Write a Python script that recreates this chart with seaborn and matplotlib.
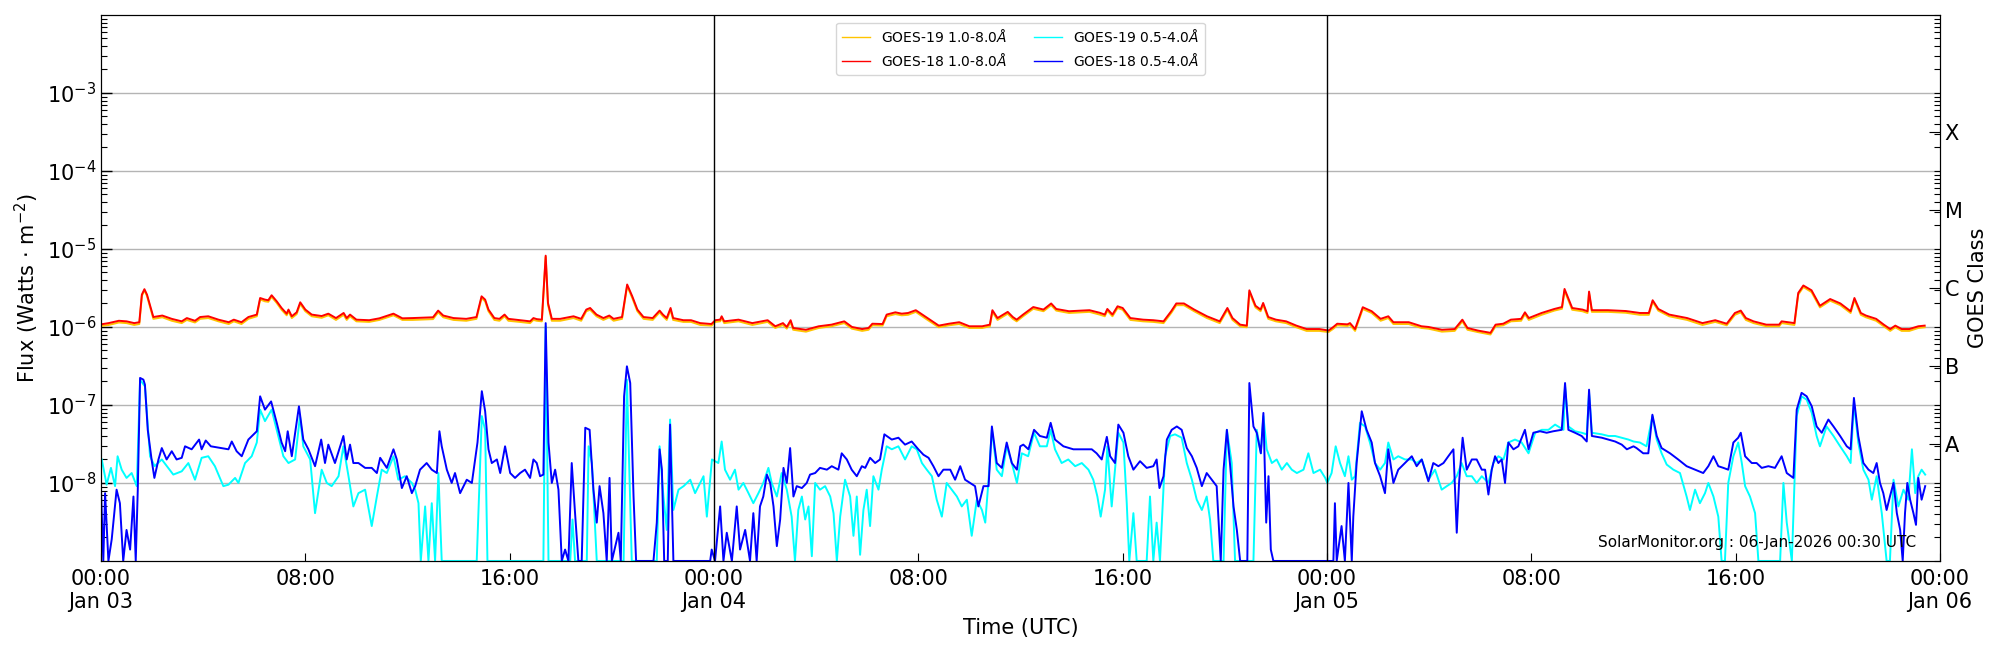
import numpy as np
import pandas as pd
import matplotlib
matplotlib.use("Agg")
import matplotlib.pyplot as plt
import matplotlib.dates as mdates
from matplotlib.ticker import LogLocator, FixedLocator, FixedFormatter, NullFormatter, FuncFormatter
import seaborn as sns

START = pd.Timestamp("2026-01-03 00:00")

# ---- data: (hours since 2026-01-03 00:00 UTC, flux) ----
# 1.0-8.0 A channels, flux in units of 1e-6 W m^-2
g18_long = [
    (0.0, 1.08), (0.3, 1.12), (0.7, 1.2), (1.0, 1.18), (1.3, 1.12), (1.5, 1.15), (1.6, 2.6), (1.7, 3.05),
    (1.8, 2.6), (1.9, 2.0), (2.05, 1.34), (2.4, 1.4), (2.77, 1.27), (3.16, 1.18), (3.36, 1.3), (3.68, 1.2),
    (3.88, 1.34), (4.2, 1.37), (4.6, 1.24), (5.0, 1.15), (5.2, 1.24), (5.5, 1.15), (5.77, 1.34), (6.1, 1.44),
    (6.23, 2.35), (6.42, 2.24), (6.55, 2.2), (6.68, 2.55), (6.88, 2.13), (7.07, 1.75), (7.27, 1.48), (7.34, 1.67),
    (7.47, 1.37), (7.66, 1.54), (7.8, 2.07), (8.0, 1.67), (8.25, 1.44), (8.64, 1.38), (8.9, 1.48), (9.2, 1.3),
    (9.5, 1.51), (9.62, 1.3), (9.75, 1.44), (10.0, 1.24), (10.5, 1.22), (10.9, 1.29), (11.45, 1.48), (11.8, 1.29),
    (12.2, 1.3), (13.0, 1.33), (13.2, 1.62), (13.4, 1.4), (13.8, 1.3), (14.3, 1.27), (14.7, 1.34), (14.9, 2.47),
    (15.04, 2.24), (15.17, 1.67), (15.4, 1.3), (15.6, 1.27), (15.8, 1.44), (15.95, 1.27), (16.4, 1.22), (16.8, 1.18),
    (16.93, 1.3), (17.06, 1.26), (17.26, 1.24), (17.41, 8.2), (17.5, 2.03), (17.65, 1.27), (17.98, 1.27), (18.5, 1.37),
    (18.8, 1.27), (19.0, 1.67), (19.15, 1.75), (19.4, 1.44), (19.67, 1.3), (19.9, 1.4), (20.07, 1.27), (20.4, 1.34),
    (20.6, 3.5), (20.8, 2.47), (21.0, 1.67), (21.24, 1.34), (21.6, 1.3), (21.87, 1.62), (22.0, 1.44), (22.15, 1.3),
    (22.3, 1.75), (22.4, 1.3), (22.8, 1.22), (23.1, 1.22), (23.46, 1.12), (23.9, 1.09), (24.05, 1.22), (24.24, 1.24),
    (24.3, 1.37), (24.4, 1.18), (24.96, 1.24), (25.5, 1.12), (26.1, 1.22), (26.4, 1.02), (26.7, 1.12), (26.85, 1.0),
    (27.0, 1.22), (27.1, 0.97), (27.6, 0.92), (28.1, 1.02), (28.6, 1.07), (29.1, 1.18), (29.4, 1.0), (29.8, 0.94),
    (30.05, 0.97), (30.2, 1.1), (30.6, 1.09), (30.76, 1.44), (31.1, 1.54), (31.35, 1.48), (31.6, 1.51), (31.9, 1.64),
    (32.3, 1.34), (32.8, 1.04), (33.2, 1.1), (33.6, 1.15), (34.0, 1.02), (34.5, 1.02), (34.8, 1.07), (34.9, 1.64),
    (35.1, 1.3), (35.5, 1.56), (35.7, 1.34), (35.85, 1.24), (36.1, 1.44), (36.5, 1.8), (36.9, 1.67), (37.2, 2.0),
    (37.4, 1.7), (37.9, 1.59), (38.7, 1.64), (39.1, 1.52), (39.3, 1.44), (39.4, 1.7), (39.6, 1.44), (39.8, 1.84),
    (40.0, 1.75), (40.3, 1.3), (40.8, 1.24), (41.2, 1.22), (41.6, 1.18), (41.9, 1.59), (42.1, 2.0), (42.4, 2.0),
    (42.8, 1.67), (43.3, 1.37), (43.8, 1.18), (44.1, 1.75), (44.3, 1.3), (44.6, 1.07), (44.86, 1.04), (44.96, 2.95),
    (45.2, 1.87), (45.4, 1.67), (45.5, 2.03), (45.7, 1.34), (46.0, 1.24), (46.4, 1.18), (46.8, 1.04), (47.2, 0.94),
    (47.7, 0.94), (48.06, 0.9), (48.25, 1.0), (48.4, 1.1), (48.8, 1.08), (48.9, 1.12), (49.1, 0.94), (49.4, 1.79),
    (49.75, 1.59), (50.1, 1.27), (50.4, 1.37), (50.6, 1.15), (51.2, 1.15), (51.7, 1.02), (51.97, 1.0), (52.5, 0.92),
    (53.0, 0.94), (53.3, 1.24), (53.5, 0.97), (53.9, 0.9), (54.4, 0.84), (54.6, 1.07), (54.9, 1.1), (55.2, 1.24),
    (55.6, 1.27), (55.75, 1.54), (55.9, 1.3), (56.4, 1.51), (56.9, 1.7), (57.2, 1.8), (57.3, 3.07), (57.6, 1.75),
    (58.0, 1.67), (58.2, 1.59), (58.26, 2.84), (58.37, 1.64), (59.0, 1.64), (59.7, 1.6), (60.25, 1.51), (60.6, 1.51),
    (60.75, 2.2), (60.97, 1.7), (61.4, 1.44), (62.1, 1.3), (62.7, 1.12), (63.2, 1.22), (63.65, 1.1), (63.97, 1.51),
    (64.2, 1.62), (64.4, 1.3), (64.7, 1.18), (65.2, 1.07), (65.7, 1.07), (65.8, 1.18), (66.3, 1.12), (66.45, 2.73),
    (66.65, 3.4), (66.97, 2.95), (67.3, 1.87), (67.7, 2.28), (68.1, 2.0), (68.5, 1.59), (68.65, 2.35), (68.9, 1.51),
    (69.1, 1.4), (69.5, 1.27), (69.8, 1.07), (70.05, 0.94), (70.25, 1.04), (70.5, 0.94), (70.8, 0.94), (71.15, 1.02),
    (71.4, 1.04),
]
g19_long = [
    (0.0, 1.03), (0.3, 1.06), (0.7, 1.14), (1.0, 1.12), (1.3, 1.06), (1.5, 1.09), (1.6, 2.5), (1.7, 2.95),
    (1.8, 2.5), (1.9, 1.9), (2.05, 1.27), (2.4, 1.33), (2.77, 1.2), (3.16, 1.12), (3.36, 1.23), (3.68, 1.14),
    (3.88, 1.27), (4.2, 1.3), (4.6, 1.18), (5.0, 1.09), (5.2, 1.18), (5.5, 1.09), (5.77, 1.27), (6.1, 1.37),
    (6.23, 2.25), (6.42, 2.13), (6.55, 2.1), (6.68, 2.43), (6.88, 2.03), (7.07, 1.66), (7.27, 1.41), (7.34, 1.59),
    (7.47, 1.3), (7.66, 1.46), (7.8, 1.97), (8.0, 1.59), (8.25, 1.37), (8.64, 1.31), (8.9, 1.41), (9.2, 1.23),
    (9.5, 1.43), (9.62, 1.23), (9.75, 1.37), (10.0, 1.18), (10.5, 1.16), (10.9, 1.23), (11.45, 1.41), (11.8, 1.23),
    (12.2, 1.23), (13.0, 1.26), (13.2, 1.54), (13.4, 1.33), (13.8, 1.23), (14.3, 1.2), (14.7, 1.27), (14.9, 2.35),
    (15.04, 2.13), (15.17, 1.59), (15.4, 1.23), (15.6, 1.2), (15.8, 1.37), (15.95, 1.2), (16.4, 1.16), (16.8, 1.12),
    (16.93, 1.23), (17.06, 1.2), (17.26, 1.18), (17.41, 7.9), (17.5, 1.93), (17.65, 1.2), (17.98, 1.2), (18.5, 1.3),
    (18.8, 1.2), (19.0, 1.59), (19.15, 1.66), (19.4, 1.37), (19.67, 1.23), (19.9, 1.33), (20.07, 1.2), (20.4, 1.27),
    (20.6, 3.35), (20.8, 2.35), (21.0, 1.59), (21.24, 1.27), (21.6, 1.23), (21.87, 1.54), (22.0, 1.37), (22.15, 1.23),
    (22.3, 1.66), (22.4, 1.23), (22.8, 1.16), (23.1, 1.16), (23.46, 1.06), (23.9, 1.04), (24.05, 1.16), (24.24, 1.18),
    (24.3, 1.3), (24.4, 1.12), (24.96, 1.18), (25.5, 1.06), (26.1, 1.16), (26.4, 0.97), (26.7, 1.06), (26.85, 0.95),
    (27.0, 1.16), (27.1, 0.92), (27.6, 0.87), (28.1, 0.97), (28.6, 1.02), (29.1, 1.12), (29.4, 0.95), (29.8, 0.89),
    (30.05, 0.92), (30.2, 1.05), (30.6, 1.04), (30.76, 1.37), (31.1, 1.46), (31.35, 1.41), (31.6, 1.43), (31.9, 1.56),
    (32.3, 1.27), (32.8, 0.99), (33.2, 1.05), (33.6, 1.09), (34.0, 0.97), (34.5, 0.97), (34.8, 1.02), (34.9, 1.56),
    (35.1, 1.23), (35.5, 1.48), (35.7, 1.27), (35.85, 1.18), (36.1, 1.37), (36.5, 1.71), (36.9, 1.59), (37.2, 1.9),
    (37.4, 1.62), (37.9, 1.51), (38.7, 1.56), (39.1, 1.44), (39.3, 1.37), (39.4, 1.62), (39.6, 1.37), (39.8, 1.75),
    (40.0, 1.66), (40.3, 1.23), (40.8, 1.18), (41.2, 1.16), (41.6, 1.12), (41.9, 1.51), (42.1, 1.9), (42.4, 1.9),
    (42.8, 1.59), (43.3, 1.3), (43.8, 1.12), (44.1, 1.66), (44.3, 1.23), (44.6, 1.02), (44.86, 0.99), (44.96, 2.8),
    (45.2, 1.78), (45.4, 1.59), (45.5, 1.93), (45.7, 1.27), (46.0, 1.18), (46.4, 1.12), (46.8, 0.99), (47.2, 0.89),
    (47.7, 0.89), (48.06, 0.86), (48.25, 0.95), (48.4, 1.05), (48.8, 1.03), (48.9, 1.06), (49.1, 0.89), (49.4, 1.7),
    (49.75, 1.51), (50.1, 1.2), (50.4, 1.3), (50.6, 1.09), (51.2, 1.09), (51.7, 0.97), (51.97, 0.95), (52.5, 0.87),
    (53.0, 0.89), (53.3, 1.18), (53.5, 0.92), (53.9, 0.86), (54.4, 0.8), (54.6, 1.02), (54.9, 1.05), (55.2, 1.18),
    (55.6, 1.2), (55.75, 1.46), (55.9, 1.23), (56.4, 1.43), (56.9, 1.62), (57.2, 1.71), (57.3, 2.92), (57.6, 1.66),
    (58.0, 1.59), (58.2, 1.51), (58.26, 2.7), (58.37, 1.56), (59.0, 1.56), (59.7, 1.52), (60.25, 1.43), (60.6, 1.43),
    (60.75, 2.1), (60.97, 1.62), (61.4, 1.37), (62.1, 1.23), (62.7, 1.06), (63.2, 1.16), (63.65, 1.05), (63.97, 1.43),
    (64.2, 1.54), (64.4, 1.23), (64.7, 1.12), (65.2, 1.02), (65.7, 1.02), (65.8, 1.12), (66.3, 1.06), (66.45, 2.6),
    (66.65, 3.25), (66.97, 2.8), (67.3, 1.78), (67.7, 2.17), (68.1, 1.9), (68.5, 1.51), (68.65, 2.23), (68.9, 1.43),
    (69.1, 1.33), (69.5, 1.2), (69.8, 1.02), (70.05, 0.89), (70.25, 0.99), (70.5, 0.89), (70.8, 0.89), (71.15, 0.97),
    (71.4, 0.99),
]

# 0.5-4.0 A channels, flux in units of 1e-8 W m^-2 (0.1 = floor of the axis)
g18_short = [
    (0.0, 0.82), (0.09, 0.1), (0.16, 0.74), (0.29, 0.1), (0.42, 0.19), (0.61, 0.82), (0.74, 0.55), (0.87, 0.1),
    (1.0, 0.25), (1.14, 0.14), (1.27, 0.67), (1.36, 0.1), (1.44, 0.82), (1.53, 22.2), (1.66, 21.1), (1.72, 18.2),
    (1.83, 4.8), (1.98, 2.0), (2.09, 1.16), (2.25, 2.0), (2.38, 2.8), (2.57, 2.0), (2.77, 2.55), (2.96, 2.0),
    (3.16, 2.1), (3.29, 2.95), (3.55, 2.7), (3.84, 3.6), (3.94, 2.7), (4.1, 3.5), (4.3, 2.95), (4.7, 2.8),
    (4.99, 2.7), (5.12, 3.4), (5.31, 2.55), (5.51, 2.2), (5.77, 3.6), (6.1, 4.6), (6.23, 12.9), (6.42, 8.7),
    (6.66, 11.1), (6.88, 5.9), (7.07, 3.3), (7.21, 2.55), (7.31, 4.6), (7.47, 2.2), (7.75, 9.6), (7.92, 3.6),
    (8.12, 2.7), (8.38, 1.64), (8.62, 3.6), (8.77, 1.8), (8.9, 3.1), (9.16, 1.8), (9.49, 4.0), (9.62, 2.0),
    (9.75, 3.1), (9.88, 1.8), (10.08, 1.8), (10.34, 1.56), (10.6, 1.56), (10.8, 1.34), (10.93, 2.1), (11.19, 1.56),
    (11.45, 2.7), (11.58, 2.0), (11.78, 0.86), (11.97, 1.22), (12.17, 0.74), (12.3, 0.91), (12.49, 1.48), (12.75, 1.8),
    (12.95, 1.48), (13.15, 1.34), (13.25, 4.6), (13.34, 2.95), (13.54, 1.48), (13.73, 1.0), (13.86, 1.34), (14.06, 0.74),
    (14.32, 1.1), (14.52, 1.0), (14.74, 3.3), (14.91, 15.0), (15.04, 8.3), (15.17, 2.7), (15.3, 1.8), (15.5, 2.0),
    (15.63, 1.34), (15.82, 2.95), (16.02, 1.34), (16.21, 1.16), (16.41, 1.34), (16.6, 1.48), (16.8, 1.16), (16.93, 2.0),
    (17.06, 1.8), (17.19, 1.22), (17.32, 1.28), (17.41, 112.0), (17.52, 3.3), (17.65, 1.0), (17.78, 1.48), (17.91, 0.82),
    (18.04, 0.1), (18.17, 0.14), (18.3, 0.1), (18.43, 1.8), (18.56, 0.41), (18.69, 0.1), (18.82, 0.1), (18.96, 5.1),
    (19.13, 4.8), (19.28, 0.82), (19.41, 0.31), (19.52, 0.91), (19.67, 0.41), (19.8, 0.1), (19.91, 1.16), (20.0, 0.1),
    (20.26, 0.23), (20.35, 0.1), (20.48, 12.9), (20.59, 31.3), (20.72, 19.1), (20.85, 0.67), (20.95, 0.1), (21.63, 0.1),
    (21.76, 0.31), (21.87, 2.7), (21.96, 1.48), (22.05, 0.1), (22.19, 0.1), (22.28, 5.6), (22.41, 0.1), (23.85, 0.1),
    (23.91, 0.14), (24.04, 0.1), (24.24, 0.5), (24.37, 0.1), (24.5, 0.23), (24.7, 0.1), (24.89, 0.5), (25.02, 0.14),
    (25.22, 0.25), (25.41, 0.1), (25.54, 0.41), (25.67, 0.1), (25.8, 0.5), (25.93, 0.67), (26.07, 1.28), (26.2, 1.0),
    (26.33, 0.5), (26.46, 0.155), (26.59, 0.34), (26.72, 1.56), (26.85, 1.0), (26.98, 2.8), (27.11, 0.67), (27.24, 0.91),
    (27.44, 0.86), (27.63, 1.0), (27.76, 1.28), (27.96, 1.34), (28.15, 1.56), (28.42, 1.48), (28.61, 1.64), (28.87, 1.48),
    (29.0, 2.4), (29.2, 2.0), (29.39, 1.48), (29.59, 1.22), (29.79, 1.64), (29.92, 1.56), (30.11, 2.1), (30.31, 1.8),
    (30.5, 2.0), (30.67, 4.2), (30.96, 3.6), (31.22, 3.8), (31.48, 3.1), (31.74, 3.4), (32.0, 2.7), (32.2, 2.3),
    (32.4, 2.1), (32.59, 1.64), (32.79, 1.22), (32.98, 1.48), (33.25, 1.48), (33.44, 1.1), (33.64, 1.64), (33.83, 1.1),
    (34.03, 1.0), (34.22, 0.91), (34.35, 0.5), (34.55, 0.91), (34.75, 0.91), (34.88, 5.3), (35.07, 1.8), (35.27, 1.56),
    (35.46, 3.3), (35.66, 1.8), (35.86, 1.48), (35.99, 2.95), (36.11, 3.1), (36.31, 2.7), (36.53, 4.8), (36.76, 4.0),
    (37.03, 3.8), (37.18, 5.9), (37.35, 3.6), (37.68, 2.95), (38.07, 2.7), (38.46, 2.7), (38.79, 2.7), (38.98, 2.4),
    (39.18, 2.0), (39.38, 3.9), (39.51, 2.2), (39.7, 1.8), (39.83, 5.6), (40.03, 4.4), (40.22, 2.2), (40.42, 1.48),
    (40.68, 1.9), (40.94, 1.56), (41.2, 1.64), (41.33, 2.0), (41.44, 0.86), (41.6, 1.22), (41.73, 3.6), (41.92, 4.8),
    (42.12, 5.3), (42.31, 4.8), (42.51, 2.8), (42.71, 2.2), (42.9, 1.56), (43.1, 0.91), (43.29, 1.34), (43.49, 1.1),
    (43.68, 0.91), (43.84, 0.1), (43.95, 1.48), (44.08, 4.8), (44.21, 1.64), (44.34, 0.5), (44.47, 0.25), (44.6, 0.1),
    (44.88, 0.1), (44.96, 19.1), (45.12, 5.3), (45.25, 4.4), (45.41, 2.4), (45.51, 7.9), (45.62, 0.31), (45.71, 1.22),
    (45.8, 0.14), (45.9, 0.1), (48.25, 0.1), (48.31, 0.55), (48.38, 0.1), (48.57, 0.28), (48.7, 0.1), (48.84, 1.0),
    (48.97, 0.1), (49.03, 0.37), (49.16, 1.8), (49.36, 8.3), (49.55, 4.8), (49.75, 3.3), (49.88, 1.8), (50.08, 1.22),
    (50.27, 0.74), (50.4, 2.7), (50.6, 1.0), (50.79, 1.48), (51.05, 1.8), (51.32, 2.2), (51.51, 1.64), (51.71, 2.0),
    (51.97, 1.05), (52.16, 1.8), (52.36, 1.64), (52.56, 1.8), (52.75, 2.2), (52.95, 2.7), (53.08, 0.23), (53.17, 1.0),
    (53.31, 3.8), (53.47, 1.48), (53.67, 2.0), (53.86, 2.0), (54.06, 1.48), (54.19, 1.48), (54.32, 0.71), (54.45, 1.48),
    (54.58, 2.2), (54.71, 1.8), (54.84, 2.0), (54.97, 1.0), (55.1, 3.3), (55.3, 2.7), (55.49, 2.95), (55.75, 4.8),
    (55.89, 2.7), (56.08, 4.4), (56.34, 4.6), (56.6, 4.4), (56.86, 4.6), (57.19, 4.8), (57.32, 19.1), (57.45, 4.8),
    (57.71, 4.4), (57.97, 4.0), (58.17, 3.4), (58.26, 15.7), (58.37, 4.0), (58.76, 3.8), (59.02, 3.6), (59.28, 3.4),
    (59.54, 3.1), (59.74, 2.7), (60.0, 2.95), (60.12, 2.8), (60.38, 2.4), (60.58, 2.4), (60.74, 7.5), (60.91, 4.0),
    (61.1, 2.8), (61.43, 2.4), (61.75, 2.0), (62.08, 1.64), (62.41, 1.48), (62.73, 1.34), (62.93, 1.64), (63.13, 2.2),
    (63.32, 1.64), (63.52, 1.56), (63.71, 1.48), (63.91, 3.3), (64.1, 3.8), (64.2, 4.4), (64.37, 2.2), (64.63, 1.8),
    (64.82, 1.8), (65.02, 1.56), (65.28, 1.64), (65.54, 1.56), (65.8, 2.2), (66.0, 1.34), (66.26, 1.16), (66.39, 8.7),
    (66.58, 14.3), (66.78, 12.9), (66.98, 9.6), (67.17, 5.3), (67.37, 4.4), (67.63, 6.5), (67.83, 5.3), (68.09, 4.0),
    (68.35, 2.95), (68.5, 2.7), (68.63, 12.3), (68.8, 4.0), (69.0, 1.8), (69.2, 1.48), (69.39, 1.34), (69.52, 1.8),
    (69.65, 1.0), (69.78, 0.74), (69.91, 0.45), (70.04, 0.67), (70.18, 1.0), (70.31, 0.41), (70.44, 0.25), (70.54, 0.1),
    (70.63, 0.41), (70.72, 1.0), (70.83, 0.61), (70.96, 0.41), (71.06, 0.29), (71.15, 1.16), (71.28, 0.61), (71.42, 0.91),
]
g19_short = [
    (0.03, 2.0), (0.22, 0.95), (0.39, 1.56), (0.55, 0.91), (0.65, 2.2), (0.81, 1.48), (1.0, 1.16), (1.2, 1.34),
    (1.4, 0.91), (1.53, 21.1), (1.72, 17.3), (1.92, 2.2), (2.1, 1.64), (2.38, 2.0), (2.83, 1.28), (3.16, 1.41),
    (3.42, 1.8), (3.68, 1.1), (3.94, 2.1), (4.2, 2.2), (4.46, 1.64), (4.79, 0.91), (4.99, 0.95), (5.25, 1.16),
    (5.38, 1.0), (5.64, 1.8), (5.9, 2.2), (6.1, 3.3), (6.23, 8.7), (6.42, 6.2), (6.68, 8.7), (6.88, 4.8),
    (7.14, 2.2), (7.34, 1.8), (7.6, 2.0), (7.79, 7.2), (7.92, 2.95), (8.19, 2.0), (8.38, 0.41), (8.64, 1.48),
    (8.84, 1.0), (9.03, 0.91), (9.3, 1.22), (9.49, 2.95), (9.69, 1.22), (9.88, 0.5), (10.08, 0.74), (10.34, 0.82),
    (10.6, 0.28), (10.8, 0.67), (10.99, 1.48), (11.19, 1.34), (11.45, 2.2), (11.64, 1.1), (11.9, 1.22), (12.17, 1.0),
    (12.3, 0.82), (12.43, 0.55), (12.52, 0.1), (12.69, 0.5), (12.82, 0.1), (12.95, 0.55), (13.08, 0.1), (13.21, 1.34),
    (13.34, 0.1), (14.71, 0.1), (14.78, 0.45), (14.91, 7.2), (15.04, 4.8), (15.13, 0.1), (17.32, 0.1), (17.41, 102.0),
    (17.52, 0.1), (18.37, 0.1), (18.46, 0.34), (18.56, 0.1), (19.02, 0.1), (19.09, 2.95), (19.22, 1.8), (19.41, 0.1),
    (20.46, 0.1), (20.59, 21.1), (20.78, 0.1), (21.76, 0.1), (21.87, 2.95), (22.02, 0.67), (22.15, 0.25), (22.28, 6.5),
    (22.41, 0.45), (22.61, 0.82), (22.81, 0.91), (23.07, 1.1), (23.26, 0.74), (23.46, 1.0), (23.59, 1.22), (23.72, 0.37),
    (23.92, 2.0), (24.17, 1.8), (24.3, 3.4), (24.43, 1.48), (24.63, 1.1), (24.82, 1.48), (24.96, 0.82), (25.15, 1.0),
    (25.35, 0.74), (25.54, 0.55), (25.74, 0.74), (25.93, 1.0), (26.13, 1.56), (26.26, 1.0), (26.46, 0.67), (26.65, 1.34),
    (26.85, 0.82), (27.04, 0.37), (27.17, 0.1), (27.3, 0.45), (27.44, 0.67), (27.57, 0.34), (27.7, 0.5), (27.83, 0.115),
    (27.96, 1.0), (28.15, 0.82), (28.35, 0.91), (28.55, 0.67), (28.68, 0.41), (28.81, 0.1), (28.94, 0.37), (29.13, 1.1),
    (29.33, 0.67), (29.46, 0.21), (29.59, 0.67), (29.72, 0.12), (29.85, 0.45), (29.98, 0.82), (30.11, 0.28), (30.24, 1.22),
    (30.44, 0.82), (30.57, 1.48), (30.76, 2.95), (30.96, 2.7), (31.22, 2.95), (31.48, 2.0), (31.74, 2.95), (31.94, 2.7),
    (32.14, 1.8), (32.33, 1.48), (32.53, 1.22), (32.72, 0.61), (32.92, 0.37), (33.11, 1.0), (33.31, 0.82), (33.51, 0.67),
    (33.7, 0.5), (33.9, 0.61), (34.09, 0.21), (34.29, 0.61), (34.49, 0.45), (34.62, 0.31), (34.75, 1.1), (34.88, 4.8),
    (35.07, 1.48), (35.27, 1.22), (35.46, 2.95), (35.66, 1.8), (35.86, 1.0), (36.05, 2.4), (36.3, 2.2), (36.53, 4.4),
    (36.76, 2.95), (37.03, 2.95), (37.18, 4.8), (37.35, 2.7), (37.61, 1.8), (37.87, 2.0), (38.14, 1.64), (38.4, 1.8),
    (38.66, 1.48), (38.85, 1.1), (39.01, 0.67), (39.14, 0.37), (39.31, 0.82), (39.4, 2.95), (39.57, 0.5), (39.83, 4.4),
    (40.03, 3.3), (40.16, 0.55), (40.26, 0.1), (40.42, 0.41), (40.55, 0.1), (40.94, 0.1), (41.07, 0.67), (41.2, 0.1),
    (41.33, 0.31), (41.46, 0.1), (41.66, 2.2), (41.86, 4.0), (42.05, 4.2), (42.31, 3.8), (42.51, 1.8), (42.71, 1.1),
    (42.9, 0.61), (43.1, 0.45), (43.29, 0.67), (43.42, 0.34), (43.55, 0.1), (43.95, 0.1), (44.08, 4.8), (44.27, 1.8),
    (44.4, 0.1), (45.12, 0.1), (45.25, 4.8), (45.41, 2.4), (45.51, 7.2), (45.64, 2.7), (45.84, 1.8), (46.03, 2.0),
    (46.23, 1.48), (46.43, 1.8), (46.62, 1.48), (46.82, 1.34), (47.08, 1.48), (47.27, 2.4), (47.47, 1.34), (47.73, 1.48),
    (47.93, 1.16), (48.01, 1.0), (48.18, 1.34), (48.34, 2.95), (48.51, 1.8), (48.7, 1.22), (48.84, 2.2), (48.97, 1.1),
    (49.1, 1.22), (49.29, 5.9), (49.49, 5.3), (49.68, 3.3), (49.88, 1.8), (50.08, 1.48), (50.27, 1.8), (50.4, 3.3),
    (50.6, 2.0), (50.79, 2.2), (51.05, 2.0), (51.32, 2.0), (51.51, 1.8), (51.71, 2.0), (51.97, 1.1), (52.23, 1.48),
    (52.49, 0.82), (52.69, 0.91), (52.88, 1.0), (53.08, 1.22), (53.27, 1.8), (53.47, 1.22), (53.67, 1.22), (53.86, 1.0),
    (54.06, 1.22), (54.32, 1.0), (54.51, 1.8), (54.71, 2.2), (54.91, 2.0), (55.1, 3.3), (55.36, 3.6), (55.62, 3.3),
    (55.89, 2.4), (56.15, 4.4), (56.41, 4.8), (56.67, 4.8), (56.93, 5.6), (57.26, 4.8), (57.32, 17.3), (57.45, 5.3),
    (57.71, 4.6), (57.97, 4.4), (58.17, 4.2), (58.26, 14.3), (58.37, 4.4), (58.76, 4.2), (59.02, 4.0), (59.28, 4.0),
    (59.54, 3.8), (59.8, 3.6), (60.0, 3.4), (60.25, 3.3), (60.51, 2.95), (60.74, 7.2), (60.91, 3.6), (61.1, 2.4),
    (61.3, 1.72), (61.56, 1.48), (61.82, 1.34), (62.08, 0.67), (62.21, 0.45), (62.41, 0.82), (62.6, 0.55), (62.8, 0.74),
    (62.93, 1.0), (63.13, 0.67), (63.32, 0.37), (63.45, 0.1), (63.58, 0.1), (63.71, 1.0), (63.91, 2.2), (64.1, 3.3),
    (64.24, 1.8), (64.37, 0.91), (64.56, 0.67), (64.76, 0.41), (64.89, 0.1), (65.74, 0.1), (65.87, 1.0), (66.0, 0.31),
    (66.2, 0.1), (66.39, 7.2), (66.58, 12.9), (66.78, 11.7), (66.98, 7.9), (67.17, 4.0), (67.3, 2.95), (67.56, 5.3),
    (67.83, 4.0), (68.09, 2.95), (68.35, 2.2), (68.5, 1.8), (68.63, 10.6), (68.8, 3.3), (69.0, 1.48), (69.2, 1.1),
    (69.33, 0.61), (69.52, 1.22), (69.72, 0.41), (69.91, 0.1), (70.04, 0.1), (70.18, 1.1), (70.37, 0.5), (70.57, 0.82),
    (70.76, 0.61), (70.9, 2.7), (71.03, 0.74), (71.15, 1.22), (71.28, 1.48), (71.42, 1.28),
]

series_labels = [r"GOES-19 1.0-8.0$\AA$", r"GOES-18 1.0-8.0$\AA$",
                 r"GOES-19 0.5-4.0$\AA$", r"GOES-18 0.5-4.0$\AA$"]
series_colors = ["#ffc400", "#ff0000", "#00ffff", "#0000ff"]
x_tick_hours = [0, 8, 16, 24, 32, 40, 48, 56, 64, 72]
day_boundaries = [24, 48]
y_major = [1e-8, 1e-7, 1e-6, 1e-5, 1e-4, 1e-3]
class_labels = ["X", "M", "C", "B", "A"]
class_flux = [10 ** -3.5, 10 ** -4.5, 10 ** -5.5, 10 ** -6.5, 10 ** -7.5]
stamp = "SolarMonitor.org : 06-Jan-2026 00:30 UTC"


def to_frame(pairs, unit):
    hours, vals = zip(*pairs)
    return pd.DataFrame({
        "time": START + pd.to_timedelta(list(hours), unit="h"),
        "flux": np.asarray(vals, dtype=float) * unit,
    })


frames = [to_frame(g19_long, 1e-6), to_frame(g18_long, 1e-6),
          to_frame(g19_short, 1e-8), to_frame(g18_short, 1e-8)]

plt.rcParams["font.family"] = ["DejaVu Sans"]
plt.rcParams["mathtext.fontset"] = "dejavusans"

fig = plt.figure(figsize=(20, 6.5), dpi=100)
ax = fig.add_axes([0.0505, 0.137, 0.9195, 0.840])

for df, lab, col in zip(frames, series_labels, series_colors):
    sns.lineplot(data=df, x="time", y="flux", ax=ax, color=col, lw=1.4,
                 label=lab, estimator=None, sort=False)

ax.set_yscale("log")
ax.set_ylim(1e-9, 1e-2)
ax.set_yticks(y_major)
ax.yaxis.set_minor_locator(LogLocator(base=10, subs=np.arange(2, 10), numticks=50))
ax.yaxis.set_minor_formatter(NullFormatter())

x0 = mdates.date2num(START)
ax.set_xlim(x0, x0 + 3)
ax.xaxis.set_major_locator(FixedLocator([x0 + h / 24 for h in x_tick_hours]))


def fmt_time(v, pos=None):
    d = mdates.num2date(v)
    if d.hour == 0:
        return d.strftime("%H:%M\n%b %d")
    return d.strftime("%H:%M")


ax.xaxis.set_major_formatter(FuncFormatter(fmt_time))

for h in day_boundaries:
    ax.axvline(x0 + h / 24, color="black", lw=1.0, zorder=3)

ax.set_axisbelow(True)
ax.grid(True, axis="y", which="major", color="#b4b4b4", lw=1.0)
ax.grid(False, axis="x")

ax.tick_params(axis="y", which="major", direction="in", length=8, width=1, labelsize=15, right=False)
ax.tick_params(axis="y", which="minor", direction="in", length=4, width=0.8, right=False)
ax.tick_params(axis="x", which="major", direction="in", length=6, labelsize=15, pad=6)
ax.set_xlabel("Time (UTC)", fontsize=15)
ax.set_ylabel(r"Flux (Watts $\cdot$ m$^{-2}$)", fontsize=15)

ax2 = ax.twinx()
ax2.set_yscale("log")
ax2.set_ylim(1e-9, 1e-2)
ax2.yaxis.set_major_locator(FixedLocator(class_flux))
ax2.yaxis.set_major_formatter(FixedFormatter(class_labels))
ax2.yaxis.set_minor_locator(LogLocator(base=10, subs=np.arange(1, 10), numticks=50))
ax2.yaxis.set_minor_formatter(NullFormatter())
ax2.tick_params(axis="y", which="major", direction="in", length=8, labelsize=15)
ax2.tick_params(axis="y", which="minor", direction="in", length=4, width=0.8)
ax2.set_ylabel("GOES Class", fontsize=15)

ax.text(0.987, 0.02, stamp, transform=ax.transAxes, ha="right", va="bottom", fontsize=11)

leg = ax.legend(loc="upper center", ncol=2, frameon=True,
                prop={"family": "DejaVu Sans", "size": 10}, handlelength=2.0,
                borderaxespad=0.55)
for line in leg.get_lines():
    line.set_linewidth(1.0)

fig.savefig("out.png", dpi=100)
